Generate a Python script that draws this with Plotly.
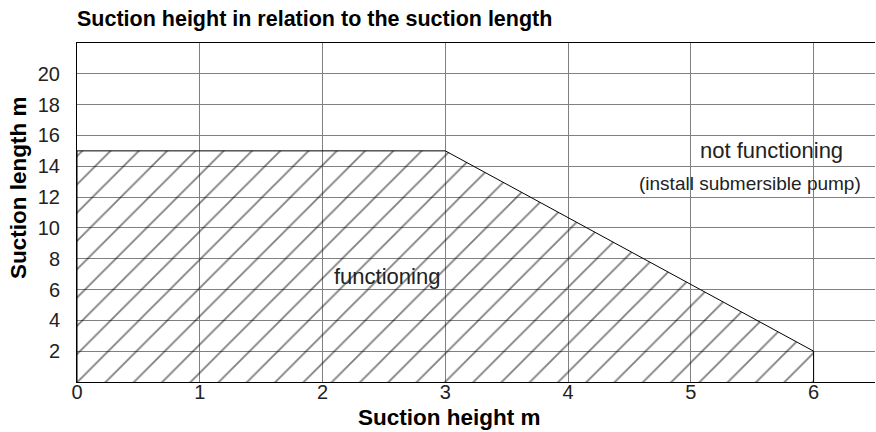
import plotly.graph_objects as go

# outline of the working area (suction height m -> max suction length m)
suction_height = [0, 0, 3, 6, 6]
suction_length = [0, 15, 15, 2, 0]

x_ticks = [0, 1, 2, 3, 4, 5, 6]
y_ticks = [2, 4, 6, 8, 10, 12, 14, 16, 18, 20]

font_family = 'Liberation Sans, Arial, sans-serif'

fig = go.Figure(
    layout={
        'title': {
            'text': '<b>Suction height in relation to the suction length</b>',
            'font': {'family': font_family, 'size': 21.5, 'color': 'black'},
            'xanchor': 'left',
            'xref': 'paper',
            'x': 0,
            'yanchor': 'middle',
            'y': 0.958
        },
        'width': 876,
        'height': 432,
        'margin': {'l': 77, 'r': 1, 't': 43, 'b': 50},
        'paper_bgcolor': 'white',
        'plot_bgcolor': 'white',
        'showlegend': False
    }
)

# hatched area, transparent background so the grid stays visible
fig.add_trace(go.Scatter(
    x=suction_height, y=suction_length,
    mode='lines',
    fill='toself',
    fillcolor='rgba(255,255,255,0)',
    fillpattern={'shape': '/', 'size': 20, 'solidity': 0.09,
                 'fgcolor': 'black', 'bgcolor': 'rgba(255,255,255,0)'},
    line={'color': 'black', 'width': 1},
    hoverinfo='skip'
))

fig.update_xaxes(
    range=[0, 6.5],
    tickmode='array', tickvals=x_ticks,
    showgrid=True, gridcolor='#808080', gridwidth=1,
    showline=True, linecolor='black', linewidth=1, mirror=True,
    zeroline=False, ticks='', ticklabelstandoff=-8,
    tickfont={'family': font_family, 'size': 20, 'color': '#222'},
    layer='below traces'
)
fig.update_yaxes(
    range=[0, 22],
    tickmode='array', tickvals=y_ticks,
    showgrid=True, gridcolor='#808080', gridwidth=1,
    showline=True, linecolor='black', linewidth=1,
    zeroline=False, ticks='', ticklabelstandoff=12,
    tickfont={'family': font_family, 'size': 20, 'color': '#222'},
    layer='below traces'
)

fig.add_annotation(
    text='<b>Suction height m</b>', xref='paper', yref='paper',
    x=0.4668, y=0, yshift=-35, xanchor='center', yanchor='middle',
    showarrow=False, font={'family': font_family, 'size': 22.5, 'color': 'black'}
)
fig.add_annotation(
    text='<b>Suction length m</b>', xref='paper', yref='paper',
    x=0, xshift=-59, y=0.572, xanchor='center', yanchor='middle',
    textangle=-90,
    showarrow=False, font={'family': font_family, 'size': 22.5, 'color': 'black'}
)

fig.add_annotation(
    text='functioning', x=2.08, y=6.85, xanchor='left', yanchor='middle',
    showarrow=False, font={'family': font_family, 'size': 22, 'color': '#222'}
)
fig.add_annotation(
    text='not functioning', x=5.66, y=15.03, xanchor='center', yanchor='middle',
    showarrow=False, font={'family': font_family, 'size': 22, 'color': '#222'}
)
fig.add_annotation(
    text='(install submersible pump)', x=5.48, y=12.89, xanchor='center', yanchor='middle',
    showarrow=False, font={'family': font_family, 'size': 19, 'color': '#222'}
)

# the page has a default body margin; drop it so the figure sits at 0,0
fig.write_html("out.html", config={'displayModeBar': False},
               post_script="document.body.style.margin = '0';")
